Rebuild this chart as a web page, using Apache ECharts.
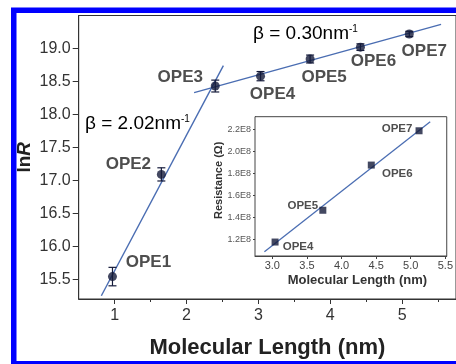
<!DOCTYPE html>
<html>
<head>
<meta charset="utf-8">
<script src="https://cdn.jsdelivr.net/npm/echarts@6/dist/echarts.min.js"></script>
<style>
  html, body { margin: 0; padding: 0; background: #fff; }
  #chart { width: 456px; height: 364px; }
</style>
</head>
<body>
<div id="chart"></div>
<script>
// ln R of OPE molecular wires versus molecular length, with two tunnelling fits
const wireNames = ['OPE1', 'OPE2', 'OPE3', 'OPE4', 'OPE5', 'OPE6', 'OPE7'];
const lengthNm = [0.97, 1.65, 2.40, 3.03, 3.72, 4.42, 5.10];
const lnR = [15.54, 17.09, 18.43, 18.58, 18.84, 19.02, 19.22];
const lnRErr = [0.14, 0.10, 0.09, 0.07, 0.06, 0.05, 0.04];

// fitted segments (end points): short wires beta = 2.02, long wires beta = 0.30
const fitShortX = [0.815, 2.513];
const fitShortY = [15.25, 18.74];
const fitLongX = [2.106, 5.542];
const fitLongY = [18.33, 19.365];

const xTicks = [1, 2, 3, 4, 5];
const xMinorTicks = [1.5, 2.5, 3.5, 4.5, 5.5];
const yTicks = [15.5, 16.0, 16.5, 17.0, 17.5, 18.0, 18.5, 19.0];

// inset: resistance of the long wires
const insetNames = ['OPE4', 'OPE5', 'OPE6', 'OPE7'];
const insetLength = [3.04, 3.73, 4.43, 5.12];
const resistance = [1.175e8, 1.464e8, 1.875e8, 2.187e8];
const insetFitX = [2.886, 5.281];
const insetFitY = [1.087e8, 2.269e8];
const insetXTicks = [3.0, 3.5, 4.0, 4.5, 5.0, 5.5];
const insetYTicks = [1.2e8, 1.4e8, 1.6e8, 1.8e8, 2.0e8, 2.2e8];

// label placement (pixel offsets from each point)
const mainLabelOffsets = [[36, -14], [-33, -10], [-35, -9], [12, 18], [14, 18], [13, 14], [15, 17]];
const insetLabelOffsets = [[23, 5], [-20, -4], [26, 9], [-22, -2]];

const FONT = 'Liberation Sans, Arial, sans-serif';
const INK = '#222';
const LINE_BLUE = '#4a6db2';
const MARK = '#141a3a';

const pairs = (xs, ys) => xs.map((x, i) => [x, ys[i]]);

const chart = echarts.init(document.getElementById('chart'), null, { renderer: 'canvas' });

chart.setOption({
  animation: false,
  backgroundColor: '#fff',
  textStyle: { fontFamily: FONT },
  grid: [
    { left: 78.7, top: 15.5, width: 386.5, height: 285.9, show: true,
      borderColor: '#333', borderWidth: 1, backgroundColor: '#fff' },
    { left: 255, top: 116.7, width: 194.3, height: 139.3, show: true,
      borderColor: '#444', borderWidth: 1, backgroundColor: '#fff', z: 5 }
  ],
  xAxis: [
    {
      gridIndex: 0, type: 'value', min: 0.5, max: 5.75, position: 'bottom',
      splitLine: { show: false },
      axisLine: { lineStyle: { color: '#333', width: 1 } },
      axisTick: { customValues: xTicks, length: 5, lineStyle: { color: '#333' } },
      axisLabel: { customValues: xTicks, fontSize: 16, color: '#333', margin: 9, fontFamily: FONT },
      name: 'Molecular Length (nm)', nameLocation: 'middle', nameGap: 38, nameMoveOverlap: false,
      nameTextStyle: { fontSize: 22, fontWeight: 'bold', color: INK, fontFamily: FONT }
    },
    {
      gridIndex: 0, type: 'value', min: 0.5, max: 5.75, position: 'bottom',
      splitLine: { show: false },
      axisLine: { show: false },
      axisTick: { customValues: xMinorTicks, length: 3, lineStyle: { color: '#333' } },
      axisLabel: { show: false }
    },
    {
      gridIndex: 1, type: 'value', min: 2.75, max: 5.52, position: 'bottom',
      splitLine: { show: false },
      axisLine: { lineStyle: { color: '#444', width: 1 } },
      axisTick: { customValues: insetXTicks, length: 3, lineStyle: { color: '#444' } },
      axisLabel: { customValues: insetXTicks, fontSize: 11, color: '#444', margin: 4,
        formatter: v => v.toFixed(1), fontFamily: FONT },
      name: 'Molecular Length (nm)', nameLocation: 'middle', nameGap: 18, nameMoveOverlap: false,
      nameTextStyle: { fontSize: 13, fontWeight: 'bold', color: '#333', padding: [0, 0, 0, 13], fontFamily: FONT }
    }
  ],
  yAxis: [
    {
      gridIndex: 0, type: 'value', min: 15.2, max: 19.5,
      splitLine: { show: false },
      axisLine: { lineStyle: { color: '#333', width: 1 } },
      axisTick: { customValues: yTicks, length: 6, lineStyle: { color: '#333' } },
      axisLabel: { customValues: yTicks, fontSize: 16, color: '#333', margin: 8,
        formatter: v => v.toFixed(1), fontFamily: FONT },
      name: '{a|ln}{b|R}', nameLocation: 'middle', nameGap: 44, nameMoveOverlap: false,
      nameTextStyle: {
        rich: {
          a: { fontSize: 19, fontWeight: 'bold', color: INK, fontFamily: FONT },
          b: { fontSize: 19, fontWeight: 'bold', fontStyle: 'italic', color: INK, fontFamily: FONT }
        }
      }
    },
    {
      gridIndex: 1, type: 'value', min: 1.048e8, max: 2.315e8,
      splitLine: { show: false },
      axisLine: { lineStyle: { color: '#444', width: 1 } },
      axisTick: { customValues: insetYTicks, length: 2, lineStyle: { color: '#444' } },
      axisLabel: { customValues: insetYTicks, fontSize: 9, color: '#555', margin: 4,
        formatter: v => (v / 1e8).toFixed(1) + 'E8', fontFamily: FONT },
      name: 'Resistance (Ω)', nameLocation: 'middle', nameGap: 31, nameMoveOverlap: false,
      nameTextStyle: { fontSize: 11, fontWeight: 'bold', color: '#333', padding: [0, 0, 0, 12], fontFamily: FONT }
    }
  ],
  series: [
    {
      type: 'line', xAxisIndex: 0, yAxisIndex: 0, data: pairs(fitShortX, fitShortY),
      symbol: 'none', lineStyle: { color: LINE_BLUE, width: 1.4 }, z: 2
    },
    {
      type: 'line', xAxisIndex: 0, yAxisIndex: 0, data: pairs(fitLongX, fitLongY),
      symbol: 'none', lineStyle: { color: LINE_BLUE, width: 1.4 }, z: 2
    },
    {
      type: 'custom', xAxisIndex: 0, yAxisIndex: 0,
      data: lengthNm.map((x, i) => [x, lnR[i], lnRErr[i]]),
      renderItem: (params, api) => {
        const x = api.value(0), y = api.value(1), e = api.value(2);
        const top = api.coord([x, y + e]);
        const bot = api.coord([x, y - e]);
        const half = 4;
        const st = { stroke: MARK, lineWidth: 1.2 };
        return {
          type: 'group',
          children: [
            { type: 'line', shape: { x1: top[0], y1: top[1], x2: bot[0], y2: bot[1] }, style: st },
            { type: 'line', shape: { x1: top[0] - half, y1: top[1], x2: top[0] + half, y2: top[1] }, style: st },
            { type: 'line', shape: { x1: bot[0] - half, y1: bot[1], x2: bot[0] + half, y2: bot[1] }, style: st }
          ]
        };
      },
      z: 3
    },
    {
      type: 'scatter', xAxisIndex: 0, yAxisIndex: 0,
      symbol: 'circle', symbolSize: 9, itemStyle: { color: MARK },
      data: lengthNm.map((x, i) => ({
        value: [x, lnR[i]], name: wireNames[i],
        label: { offset: mainLabelOffsets[i] }
      })),
      label: {
        show: true, position: 'inside', formatter: p => p.name,
        fontSize: 17, fontWeight: 'bold', color: INK, fontFamily: FONT
      },
      z: 4
    },
    {
      type: 'line', xAxisIndex: 2, yAxisIndex: 1, data: pairs(insetFitX, insetFitY),
      symbol: 'none', lineStyle: { color: LINE_BLUE, width: 1.3 }, z: 6
    },
    {
      type: 'scatter', xAxisIndex: 2, yAxisIndex: 1,
      symbol: 'rect', symbolSize: 7, itemStyle: { color: MARK },
      data: insetLength.map((x, i) => ({
        value: [x, resistance[i]], name: insetNames[i],
        label: { offset: insetLabelOffsets[i] }
      })),
      label: {
        show: true, position: 'inside', formatter: p => p.name,
        fontSize: 11.5, fontWeight: 'bold', color: INK, fontFamily: FONT
      },
      z: 7
    }
  ],
  graphic: [
    {
      type: 'text', left: 85, top: 114, z: 10,
      style: {
        text: '{m|β = 2.02nm}{s|-1}',
        rich: {
          m: { fontSize: 19, color: INK, fontFamily: FONT },
          s: { fontSize: 10, color: INK, fontFamily: FONT, verticalAlign: 'top' }
        }
      }
    },
    {
      type: 'text', left: 253, top: 24, z: 10,
      style: {
        text: '{m|β = 0.30nm}{s|-1}',
        rich: {
          m: { fontSize: 19, color: INK, fontFamily: FONT },
          s: { fontSize: 10, color: INK, fontFamily: FONT, verticalAlign: 'top' }
        }
      }
    },
    {
      type: 'rect', z: 100, silent: true,
      shape: { x: 13.75, y: 10.25, width: 500, height: 353.5 },
      style: { fill: 'none', stroke: '#0000ff', lineWidth: 5.5 }
    }
  ]
});
</script>
</body>
</html>
